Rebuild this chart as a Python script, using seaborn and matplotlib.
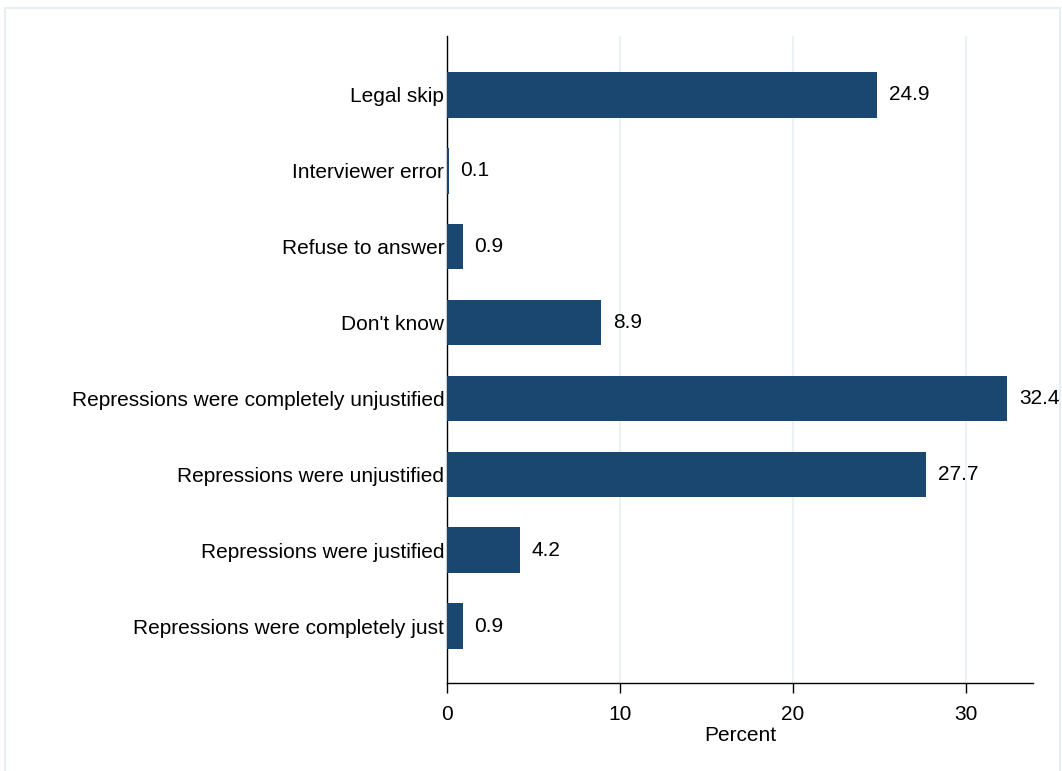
import matplotlib

matplotlib.use("Agg")
import matplotlib.pyplot as plt
import pandas as pd
import seaborn as sns
from matplotlib.patches import Rectangle

categories = [
    "Legal skip",
    "Interviewer error",
    "Refuse to answer",
    "Don't know",
    "Repressions were completely unjustified",
    "Repressions were unjustified",
    "Repressions were justified",
    "Repressions were completely just",
]
percent = [24.9, 0.1, 0.9, 8.9, 32.4, 27.7, 4.2, 0.9]
x_ticks = [0, 10, 20, 30]

df = pd.DataFrame({"category": categories, "percent": percent})

sns.set_theme(style="white")
plt.rcParams["font.family"] = ["Liberation Sans", "DejaVu Sans"]
plt.rcParams["text.color"] = "black"
plt.rcParams["axes.labelcolor"] = "black"
plt.rcParams["xtick.color"] = "black"
plt.rcParams["ytick.color"] = "black"

W, H = 1062, 771
fig = plt.figure(figsize=(W / 100, H / 100), dpi=100)
ax = fig.add_axes([447 / W, 1 - 683 / H, (1033 - 447) / W, (683 - 36) / H])

sns.barplot(data=df, x="percent", y="category", orient="h", color="#1a476f",
            saturation=1, width=0.6, ax=ax, zorder=3, linewidth=0, edgecolor="none")

ax.bar_label(ax.containers[0], fmt="%.1f", padding=8.5, fontsize=15, color="black")

ax.set_xlim(0, 33.9)
ax.set_ylim(7.75, -0.776)
ax.set_xticks(x_ticks)
ax.set_xticklabels([str(t) for t in x_ticks], fontsize=15)
ax.tick_params(axis="x", length=7.5, width=1, pad=8, direction="out", bottom=True)
ax.tick_params(axis="y", length=0, pad=2, labelsize=15)
ax.set_xlabel("Percent", fontsize=15, labelpad=1.5)
ax.set_ylabel("")

ax.grid(axis="x", color="#eaf2f3", linewidth=1.5, zorder=0)
ax.grid(axis="y", visible=False)
for side in ["top", "right"]:
    ax.spines[side].set_visible(False)
for side in ["left", "bottom"]:
    ax.spines[side].set_color("black")
    ax.spines[side].set_linewidth(1)

# light outer frame, like the graph region border
fig.patches.append(Rectangle((5 / W, -4 / H), 1055 / W, (H - 8 + 4) / H,
                             transform=fig.transFigure, fill=False,
                             edgecolor="#e6eef1", linewidth=1.5, zorder=-1))

fig.savefig("out.png", dpi=100)
plt.close(fig)
